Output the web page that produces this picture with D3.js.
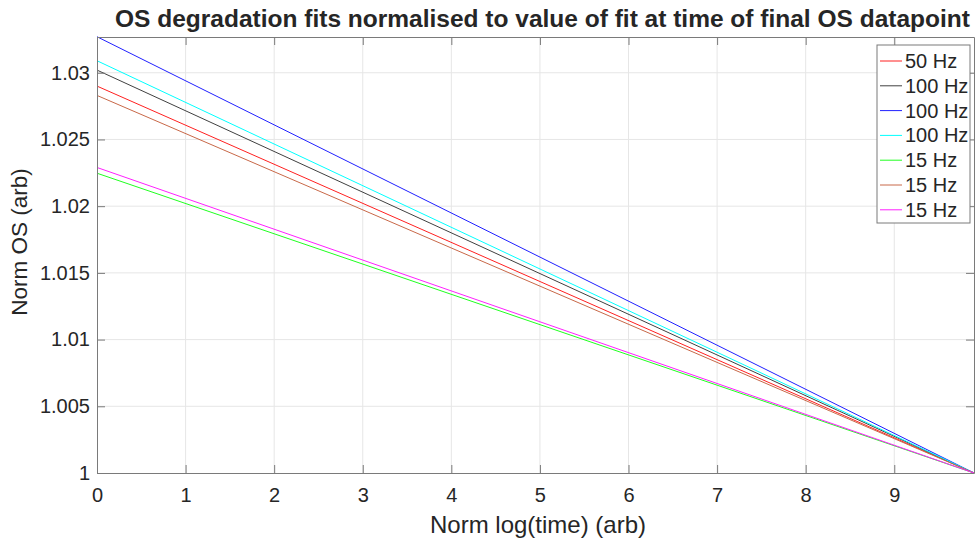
<!DOCTYPE html>
<html>
<head>
<meta charset="utf-8">
<script src="https://cdn.jsdelivr.net/npm/d3@7"></script>
<style>
  body { margin: 0; background: #fff; }
  text { font-family: "Liberation Sans", Arial, sans-serif; fill: #262626; }
  .grid line { stroke: #e6e6e6; }
</style>
</head>
<body>
<svg id="chart" width="975" height="541"></svg>
<script>
// series: value at time 0, all end at 1 at final point
const seriesNames = ["50 Hz", "100 Hz", "100 Hz", "100 Hz", "15 Hz", "15 Hz", "15 Hz"];
const startValues = [1.0290, 1.0302, 1.0327, 1.0309, 1.02247, 1.0283, 1.0229];
const endValues = [1, 1, 1, 1, 1, 1, 1];
const timeStart = 0;
const timeEnd = 9.9;
const xTicks = [0, 1, 2, 3, 4, 5, 6, 7, 8, 9];
const yTicks = [1, 1.005, 1.01, 1.015, 1.02, 1.025, 1.03];
const lineColors = ["#ff2020", "#404040", "#2020ff", "#00ffff", "#20ff20", "#c86848", "#ff20ff"];

let margin = {top: 37, right: 1, bottom: 68, left: 97},
    width = 975 - margin.left - margin.right,
    height = 541 - margin.top - margin.bottom;

let svg = d3.select("#chart");
let g = svg.append("g")
    .attr("transform", "translate(" + margin.left + "," + margin.top + ")");

let x = d3.scaleLinear().domain([timeStart, timeEnd]).range([0, width]);
let y = d3.scaleLinear().domain([1, 1.03268]).range([height, 0]);

//grid
g.append("g").attr("class", "grid")
    .selectAll("line").data(xTicks.slice(1)).join("line")
    .attr("x1", d => x(d)).attr("x2", d => x(d))
    .attr("y1", 0).attr("y2", height);
g.append("g").attr("class", "grid")
    .selectAll("line").data(yTicks.slice(1)).join("line")
    .attr("x1", 0).attr("x2", width)
    .attr("y1", d => y(d)).attr("y2", d => y(d));

//lines
let data = seriesNames.map((n, i) => ({
    name: n, color: lineColors[i],
    pts: [{t: timeStart, v: startValues[i]}, {t: timeEnd, v: endValues[i]}]
}));
let valueline = d3.line().x(d => x(d.t)).y(d => y(d.v));
g.selectAll(".series").data(data).join("path")
    .attr("class", "series")
    .attr("fill", "none")
    .attr("stroke", d => d.color)
    .attr("stroke-width", 1)
    .attr("d", d => valueline(d.pts));

//axes (ticks inside, matlab style)
let fmt = d => String(+d.toFixed(3));
let xAxis = g.append("g")
    .attr("transform", "translate(0," + height + ")")
    .call(d3.axisBottom(x).tickValues(xTicks).tickSizeInner(-8).tickSizeOuter(0).tickPadding(15).tickFormat(d3.format("d")));
let yAxis = g.append("g")
    .call(d3.axisLeft(y).tickValues(yTicks).tickSizeInner(-8).tickSizeOuter(0).tickPadding(7).tickFormat(fmt));
let xTop = g.append("g")
    .call(d3.axisTop(x).tickValues(xTicks).tickSizeInner(-8).tickSizeOuter(0).tickFormat(""));
let yRight = g.append("g")
    .attr("transform", "translate(" + width + ",0)")
    .call(d3.axisRight(y).tickValues(yTicks).tickSizeInner(-8).tickSizeOuter(0).tickFormat(""));
[xAxis, yAxis, xTop, yRight].forEach(a => {
    a.selectAll("path").attr("stroke", "#7a7a7a");
    a.selectAll("line").attr("stroke", "#7a7a7a");
    a.selectAll("text").style("font-size", "20px").attr("fill", "#262626");
});

//title
svg.append("text")
    .attr("x", margin.left + width / 2 + 7)
    .attr("y", 27)
    .style("text-anchor", "middle")
    .style("font-weight", "bold")
    .style("font-size", "24.5px")
    .text("OS degradation fits normalised to value of fit at time of final OS datapoint");

//x label
svg.append("text")
    .attr("x", 538)
    .attr("y", 533)
    .style("text-anchor", "middle")
    .style("font-size", "24px")
    .text("Norm log(time) (arb)");

//y label
svg.append("text")
    .attr("transform", "rotate(-90)")
    .attr("x", -242)
    .attr("y", 27)
    .style("text-anchor", "middle")
    .style("font-size", "22.5px")
    .text("Norm OS (arb)");

//legend
let lg = svg.append("g").attr("transform", "translate(877,45)");
lg.append("rect")
    .attr("width", 93).attr("height", 178)
    .attr("fill", "#fff").attr("stroke", "#7a7a7a");
let item = lg.selectAll(".item").data(data).join("g")
    .attr("class", "item")
    .attr("transform", (d, i) => "translate(0," + (16 + i * 24.8) + ")");
item.append("line")
    .attr("x1", 3).attr("x2", 25)
    .attr("stroke", d => d.color).attr("stroke-width", 1);
item.append("text")
    .attr("x", 28).attr("dy", "0.35em")
    .style("font-size", "20px")
    .text(d => d.name);
</script>
</body>
</html>
